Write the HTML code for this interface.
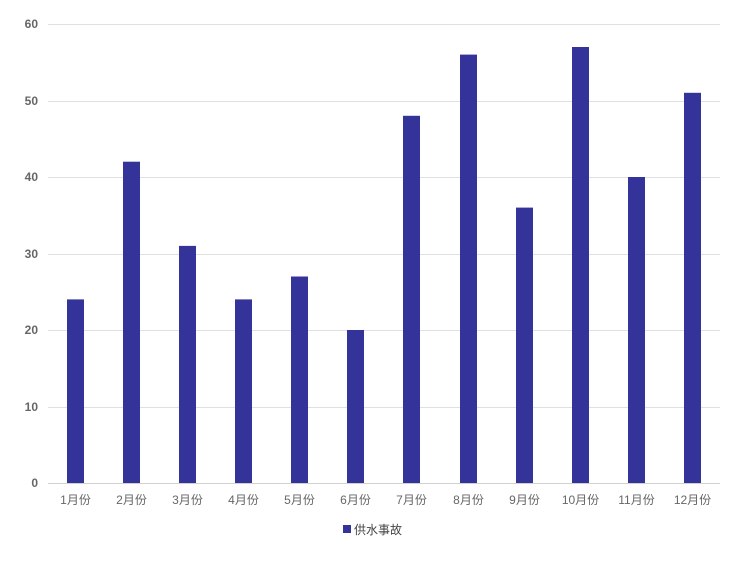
<!DOCTYPE html>
<html><head><meta charset="utf-8"><style>
body{margin:0;background:#fff}
svg text{font-family:"Liberation Sans","Noto Sans CJK SC",sans-serif;fill:#666;font-size:12px}
</style></head><body>
<svg width="731" height="565" xmlns="http://www.w3.org/2000/svg">
<g stroke="#e0e0e0" stroke-width="1">
<line x1="48" x2="720" y1="24.5" y2="24.5"/>
<line x1="48" x2="720" y1="101.5" y2="101.5"/>
<line x1="48" x2="720" y1="177.5" y2="177.5"/>
<line x1="48" x2="720" y1="254.5" y2="254.5"/>
<line x1="48" x2="720" y1="330.5" y2="330.5"/>
<line x1="48" x2="720" y1="407.5" y2="407.5"/>
<line x1="48" x2="720" y1="483.5" y2="483.5" stroke="#d0d0d0"/>
</g>
<g text-anchor="end" font-weight="bold">
<text x="38" y="28" style="font-weight:bold">60</text>
<text x="38" y="105" style="font-weight:bold">50</text>
<text x="38" y="181" style="font-weight:bold">40</text>
<text x="38" y="258" style="font-weight:bold">30</text>
<text x="38" y="334" style="font-weight:bold">20</text>
<text x="38" y="411" style="font-weight:bold">10</text>
<text x="38" y="487" style="font-weight:bold">0</text>
</g>
<g fill="#333399">
<rect x="67" y="299.4" width="17" height="183.6"/>
<rect x="123" y="161.7" width="17" height="321.3"/>
<rect x="179" y="245.9" width="17" height="237.1"/>
<rect x="235" y="299.4" width="17" height="183.6"/>
<rect x="291" y="276.5" width="17" height="206.5"/>
<rect x="347" y="330" width="17" height="153"/>
<rect x="403" y="115.8" width="17" height="367.2"/>
<rect x="460" y="54.6" width="17" height="428.4"/>
<rect x="516" y="207.6" width="17" height="275.4"/>
<rect x="572" y="47" width="17" height="436"/>
<rect x="628" y="177" width="17" height="306"/>
<rect x="684" y="92.8" width="17" height="390.2"/>
</g>
<g text-anchor="middle">
<text x="75.5" y="504">1月份</text>
<text x="131.5" y="504">2月份</text>
<text x="187.5" y="504">3月份</text>
<text x="243.5" y="504">4月份</text>
<text x="299.5" y="504">5月份</text>
<text x="355.5" y="504">6月份</text>
<text x="411.5" y="504">7月份</text>
<text x="468.5" y="504">8月份</text>
<text x="524.5" y="504">9月份</text>
<text x="580.5" y="504">10月份</text>
<text x="636.5" y="504">11月份</text>
<text x="692.5" y="504">12月份</text>
</g>
<rect x="343" y="525" width="8" height="8" fill="#333399"/>
<text x="354" y="534" style="fill:#444">供水事故</text>
</svg>
</body></html>
